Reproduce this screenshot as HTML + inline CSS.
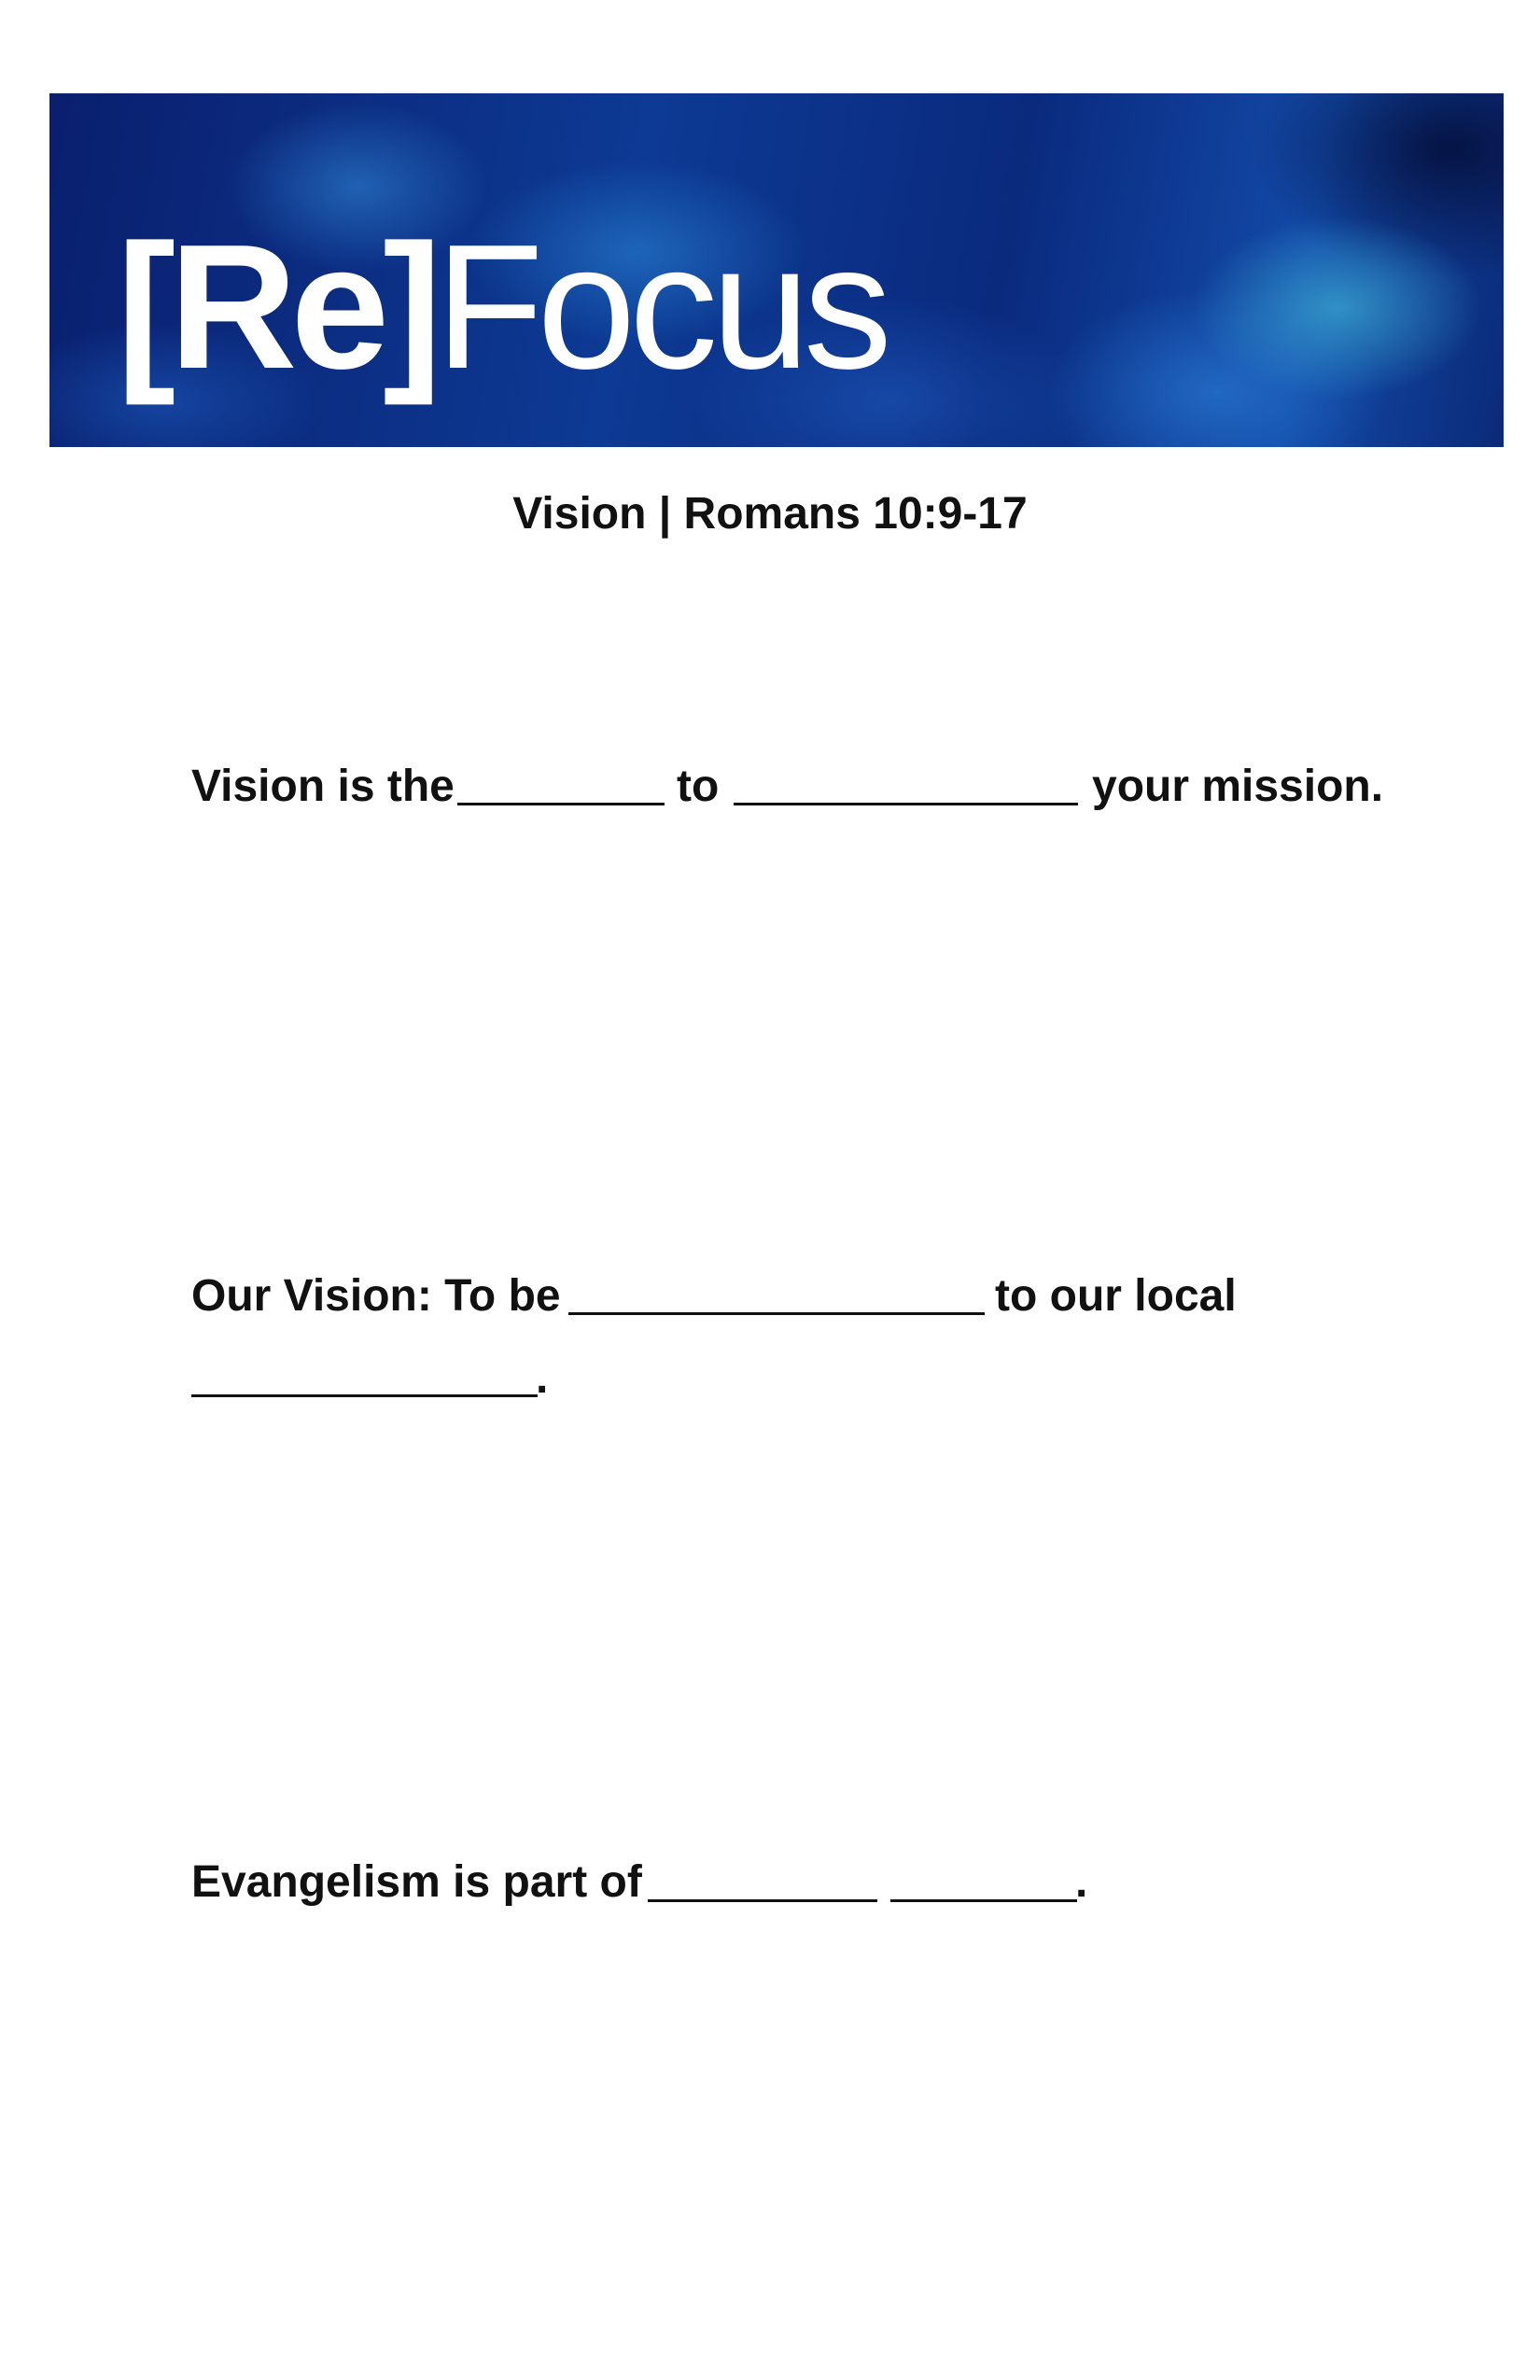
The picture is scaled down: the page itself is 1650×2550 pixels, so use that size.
<!DOCTYPE html>
<html><head><meta charset="utf-8"><style>
html,body{margin:0;padding:0;background:#fff;}
body{width:1650px;height:2550px;position:relative;overflow:hidden;font-family:"Liberation Sans",sans-serif;color:#111;}
.banner{position:absolute;left:53px;top:100px;width:1558px;height:379px;overflow:hidden;
background:
radial-gradient(ellipse 220px 140px at 1380px 230px,rgba(60,170,210,.75),transparent 70%),
radial-gradient(ellipse 260px 160px at 1250px 320px,rgba(40,120,210,.7),transparent 70%),
radial-gradient(ellipse 260px 140px at 630px 170px,rgba(40,130,210,.6),transparent 70%),
radial-gradient(ellipse 200px 130px at 330px 100px,rgba(50,140,220,.55),transparent 70%),
radial-gradient(ellipse 300px 160px at 900px 330px,rgba(30,90,190,.6),transparent 70%),
radial-gradient(ellipse 250px 120px at 120px 330px,rgba(30,100,200,.5),transparent 70%),
radial-gradient(ellipse 300px 200px at 1500px 60px,rgba(5,15,60,.9),transparent 70%),
linear-gradient(100deg,#0a1f6e 0%,#0d3a94 40%,#0a2a7e 65%,#124aa8 85%,#0b2a78 100%);}
.title{position:absolute;left:72px;top:134px;font-size:190px;line-height:1;color:#fff;letter-spacing:-7px;white-space:nowrap;}
.title b{font-weight:bold}
.sub{position:absolute;left:0;width:1650px;top:523px;text-align:center;font-size:48px;font-weight:bold;}
.t{position:absolute;font-size:48px;font-weight:bold;white-space:nowrap;line-height:1;}
.bl{position:absolute;height:0;border-top:3px solid #111;}
</style></head><body>
<div class="banner"><div class="title"><b>[Re]</b>Focus</div></div>
<div class="sub">Vision | Romans 10:9-17</div>

<div class="t" style="left:205px;top:819px">Vision is the</div>
<div class="bl" style="left:490px;width:222px;top:860px"></div>
<div class="t" style="left:725px;top:819px">to</div>
<div class="bl" style="left:786px;width:369px;top:860px"></div>
<div class="t" style="left:1170px;top:819px">your mission.</div>

<div class="t" style="left:205px;top:1365px">Our Vision: To be</div>
<div class="bl" style="left:609px;width:446px;top:1406px"></div>
<div class="t" style="left:1066px;top:1365px">to our local</div>
<div class="bl" style="left:205px;width:371px;top:1494px"></div>
<div class="t" style="left:574px;top:1453px">.</div>

<div class="t" style="left:205px;top:1993px">Evangelism is part of</div>
<div class="bl" style="left:694px;width:246px;top:2035px"></div>
<div class="bl" style="left:954px;width:200px;top:2035px"></div>
<div class="t" style="left:1152px;top:1993px">.</div>
</body></html>
